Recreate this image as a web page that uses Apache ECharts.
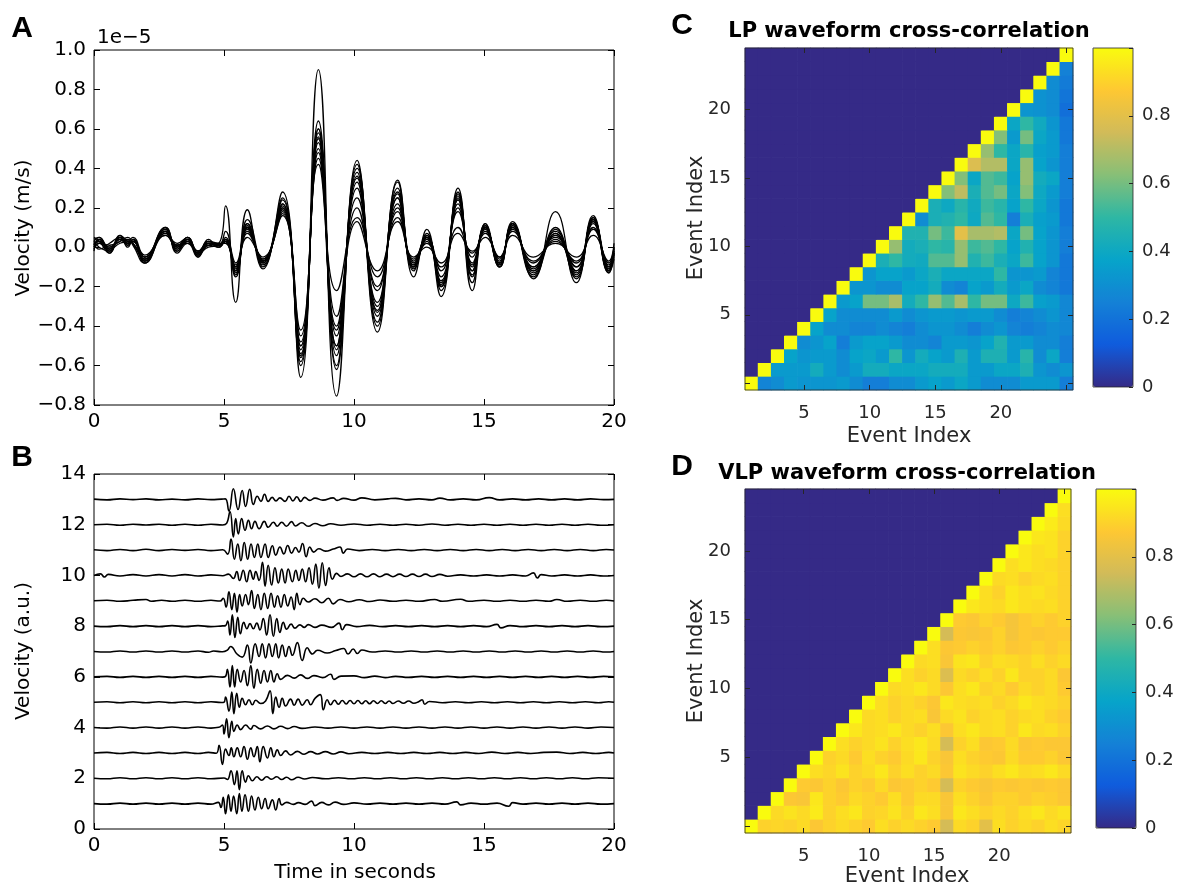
<!DOCTYPE html>
<html><head><meta charset="utf-8">
<script src="https://cdn.jsdelivr.net/npm/echarts@6/dist/echarts.min.js"></script>
<style>html,body{margin:0;padding:0;background:#fff}#c{width:1178px;height:889px}</style>
</head><body><div id="c"></div>
<script>
// ---------------- Panel A: overlaid LP waveforms (units of 1e-5 m/s), values at extrema ----------------
const tA = [0,0.2,0.6,1.0,1.3,1.5,1.95,2.75,3.2,3.6,4.0,4.4,4.8,5.06,5.45,5.9,6.5,7.25,7.95,8.63,9.33,10.12,10.9,11.68,12.3,12.8,13.35,14.0,14.55,15.05,15.6,16.1,16.9,17.75,18.55,19.2,19.8,20.0];
const a01 = [0.03,0.05,-0.01,0.04,0.01,0.03,-0.05,0.1,-0.01,0.05,-0.02,0.02,0.01,0.08,-0.12,0.12,-0.1,0.28,-0.66,0.9,-0.755,0.44,-0.43,0.34,-0.15,0.09,-0.25,0.3,-0.22,0.12,-0.1,0.12,-0.16,0.18,-0.18,0.16,-0.12,-0.02];
const a02 = [0.0,0.02,-0.02,0.05,0.02,0.04,-0.07,0.08,0.0,0.03,-0.04,0.01,0.02,0.21,-0.28,0.19,-0.11,0.22,-0.55,0.55,-0.5,0.35,-0.3,0.28,-0.08,0.06,-0.2,0.25,-0.12,0.1,-0.08,0.1,-0.1,0.08,-0.1,0.14,-0.1,0.0];
const a03 = [0.05,0.03,-0.03,0.06,0.03,0.02,-0.06,0.09,-0.02,0.04,-0.03,0.02,0.0,0.04,-0.08,0.14,-0.08,0.25,-0.6,0.64,-0.62,0.42,-0.4,0.33,-0.12,0.05,-0.22,0.28,-0.18,0.11,-0.09,0.12,-0.14,0.09,-0.16,0.15,-0.13,-0.03];
const a04 = [-0.02,0.04,0.0,0.03,0.04,0.01,-0.08,0.07,0.02,0.05,-0.05,0.03,0.01,0.03,-0.15,0.1,-0.07,0.18,-0.5,0.6,-0.6,0.38,-0.35,0.3,-0.1,0.04,-0.18,0.26,-0.1,0.1,-0.07,0.1,-0.12,0.06,-0.12,0.14,-0.11,-0.04];
const a05 = [0.02,-0.01,0.02,0.05,0.0,0.04,-0.05,0.1,-0.03,0.02,-0.02,0.03,0.02,0.02,-0.1,0.08,-0.06,0.2,-0.45,0.58,-0.5,0.3,-0.28,0.22,-0.09,0.03,-0.15,0.22,-0.08,0.09,-0.08,0.11,-0.1,0.04,-0.1,0.12,-0.1,-0.02];
const a06 = [0.01,0.03,-0.01,0.02,0.03,0.05,-0.04,0.06,0.01,0.04,-0.03,0.0,0.01,0.05,-0.12,0.12,-0.09,0.24,-0.58,0.5,-0.45,0.4,-0.38,0.25,-0.11,0.07,-0.2,0.24,-0.14,0.12,-0.09,0.13,-0.13,0.1,-0.14,0.13,-0.12,-0.05];
const a07 = [0.04,0.05,-0.03,0.04,0.02,0.03,-0.07,0.08,-0.01,0.03,-0.04,0.04,0.0,0.03,-0.09,0.05,-0.05,0.16,-0.42,0.45,-0.35,0.25,-0.22,0.18,-0.07,0.05,-0.12,0.18,-0.05,0.08,-0.06,0.09,-0.08,0.05,-0.08,0.1,-0.09,-0.01];
const a08 = [-0.01,0.02,0.01,0.03,0.05,0.02,-0.06,0.09,0.0,0.05,-0.02,0.02,0.01,0.04,-0.14,0.1,-0.07,0.2,-0.52,0.53,-0.4,0.2,-0.2,0.2,-0.1,0.05,-0.17,0.2,-0.09,0.1,-0.1,0.12,-0.11,0.07,-0.13,0.13,-0.12,-0.03];
const a09 = [0.03,0.0,-0.02,0.05,0.01,0.04,-0.08,0.06,0.01,0.02,-0.05,0.02,0.02,0.02,-0.1,0.07,-0.06,0.17,-0.48,0.42,-0.22,0.15,-0.15,0.15,-0.06,0.02,-0.1,0.1,-0.03,0.07,-0.05,0.08,-0.07,0.03,-0.07,0.09,-0.08,0.0];
const a10 = [0.0,0.04,-0.02,0.06,0.02,0.03,-0.05,0.08,-0.02,0.04,-0.03,0.03,0.01,0.03,-0.11,0.09,-0.08,0.22,-0.56,0.6,-0.55,0.33,-0.32,0.25,-0.09,0.06,-0.2,0.27,-0.15,0.11,-0.1,0.12,-0.15,0.07,-0.15,0.15,-0.13,-0.06];
const a11 = [0.02,0.03,0.0,0.04,0.03,0.02,-0.06,0.07,0.01,0.04,-0.04,0.01,0.0,0.04,-0.13,0.11,-0.07,0.19,-0.5,0.48,-0.42,0.13,-0.12,0.13,-0.05,0.0,-0.08,0.07,-0.02,0.05,-0.05,0.06,-0.05,0.02,-0.05,0.06,-0.07,0.02];
const a12 = [0.01,0.04,-0.01,0.05,0.02,0.03,-0.07,0.08,0.0,0.03,-0.03,0.02,0.01,0.03,-0.1,0.1,-0.07,0.21,-0.54,0.56,-0.52,0.36,-0.33,0.27,-0.1,0.05,-0.19,0.24,-0.12,0.1,-0.08,0.11,-0.12,0.06,-0.12,0.14,-0.11,-0.03];
const tracesA = [a01,a02,a03,a04,a05,a06,a07,a08,a09,a10,a11,a12];

// ---------------- Panel B: 13 stacked traces, [time, amplitude] at extrema ----------------
const bOffsets = [1,2,3,4,5,6,7,8,9,10,11,12,13];
const b01 = [[0,0],[0.5,-0.02],[1,0.02],[1.5,-0.02],[2,0.02],[2.5,-0.02],[3,0.02],[3.5,-0.02],[4,0.02],[4.5,-0.02],[4.78,0.05],[4.88,-0.15],[4.97,0.25],[5.06,-0.4],[5.17,0.35],[5.27,-0.3],[5.37,0.3],[5.49,-0.4],[5.59,0.4],[5.69,-0.3],[5.81,0.35],[5.94,-0.3],[6.06,0.3],[6.19,-0.25],[6.32,0.25],[6.45,-0.2],[6.58,0.2],[6.7,-0.2],[6.86,0.15],[6.99,-0.25],[7.12,0.2],[7.22,-0.05],[7.41,0.05],[7.67,-0.03],[7.86,0.04],[8.12,-0.03],[8.37,0.1],[8.5,-0.08],[8.76,0.05],[9.01,-0.05],[9.27,0.06],[9.6,-0.03],[10,0.03],[10.5,-0.02],[11,0.02],[11.5,-0.02],[12,0.02],[12.5,-0.02],[13,0.02],[13.5,-0.02],[13.95,0.07],[14.1,-0.05],[14.5,0.02],[15,-0.02],[15.5,0.02],[15.95,-0.1],[16.1,0.04],[16.5,-0.02],[17,0.02],[17.5,-0.02],[18,0.02],[18.5,-0.02],[19,0.02],[19.5,-0.02],[20,0]];
const b02 = [[0,0],[0.5,-0.02],[1,0.02],[1.5,-0.02],[2,0.02],[2.5,-0.02],[3,0.02],[3.5,-0.02],[4,0.02],[4.5,-0.02],[5.0,0.01],[5.13,-0.05],[5.27,0.3],[5.4,-0.25],[5.5,0.3],[5.59,-0.45],[5.7,0.3],[5.83,-0.15],[5.94,0.1],[6.09,-0.1],[6.26,0.06],[6.45,-0.08],[6.64,0.06],[6.83,-0.04],[7.03,0.06],[7.22,-0.05],[7.41,0.04],[7.6,-0.06],[7.85,0.04],[8.1,-0.03],[8.4,0.03],[8.9,-0.02],[9.4,0.02],[9.9,-0.02],[10.4,0.02],[10.9,-0.02],[11.4,0.02],[11.9,-0.02],[12.4,0.02],[12.9,-0.02],[13.4,0.02],[13.9,-0.02],[14.4,0.02],[14.9,-0.02],[15.4,0.02],[15.9,-0.02],[16.4,0.02],[16.9,-0.02],[17.4,0.02],[17.9,-0.02],[18.4,0.02],[18.9,-0.02],[19.4,0.02],[20,0]];
const b03 = [[0,0],[0.5,0.02],[1,-0.02],[1.5,0.02],[2,-0.02],[2.5,0.02],[3,-0.02],[3.5,0.02],[4,-0.02],[4.4,0.02],[4.7,-0.01],[4.81,0.3],[4.94,-0.45],[5.06,0.15],[5.19,-0.1],[5.28,0.2],[5.38,-0.15],[5.51,0.2],[5.64,-0.15],[5.77,0.25],[5.9,-0.25],[6.03,0.2],[6.15,-0.15],[6.28,0.25],[6.38,-0.35],[6.51,0.25],[6.67,-0.2],[6.8,0.2],[6.92,-0.15],[7.05,0.12],[7.18,-0.1],[7.37,0.08],[7.56,-0.08],[7.82,0.06],[8.08,-0.05],[8.33,0.05],[8.6,-0.04],[8.9,0.05],[9.2,-0.04],[9.5,0.04],[9.8,-0.03],[10.3,0.02],[10.8,-0.02],[11.3,0.02],[11.8,-0.02],[12.3,0.02],[12.8,-0.02],[13.3,0.02],[13.8,-0.02],[14.3,0.02],[14.8,-0.02],[15.3,0.03],[15.8,-0.02],[16.3,0.02],[16.8,-0.02],[17.3,0.02],[17.8,0.03],[18.3,-0.02],[18.8,0.02],[19.3,-0.02],[19.8,0.02],[20,0]];
const b04 = [[0,0],[0.5,-0.02],[1,0.02],[1.5,-0.02],[2,0.02],[2.5,-0.02],[3,0.02],[3.5,-0.02],[4,0.02],[4.5,-0.02],[4.8,0.01],[4.94,0.1],[5.0,-0.25],[5.1,0.35],[5.19,-0.4],[5.3,0.25],[5.38,-0.15],[5.51,0.1],[5.64,-0.08],[5.83,0.1],[6.03,-0.06],[6.15,0.08],[6.41,-0.05],[6.67,0.06],[6.92,-0.05],[7.18,0.05],[7.45,-0.04],[7.7,0.04],[8.0,-0.03],[8.5,0.02],[9,-0.02],[9.5,0.02],[10,-0.02],[10.5,0.02],[11,-0.02],[11.5,0.02],[12,-0.02],[12.5,0.02],[13,-0.02],[13.5,0.02],[14,-0.02],[14.5,0.02],[15,-0.02],[15.5,0.02],[16,-0.02],[16.5,0.02],[17,-0.02],[17.5,0.02],[18,-0.02],[18.5,0.02],[19,-0.02],[19.5,0.02],[20,0]];
const b05 = [[0,0],[0.5,0.02],[1,-0.02],[1.5,0.02],[2,-0.02],[2.5,0.02],[3,-0.02],[3.5,0.02],[4,-0.02],[4.5,0.02],[4.9,-0.01],[5.0,0],[5.06,0.2],[5.19,-0.35],[5.3,0.4],[5.38,-0.45],[5.49,0.35],[5.59,-0.2],[5.7,0.15],[5.83,-0.1],[5.96,0.1],[6.09,-0.1],[6.22,0.08],[6.41,-0.05],[6.6,0.05],[6.77,0.45],[6.88,-0.45],[6.99,0.2],[7.12,-0.2],[7.24,0.15],[7.37,-0.15],[7.56,0.12],[7.7,-0.12],[7.85,0.12],[8.01,-0.12],[8.2,0.1],[8.33,-0.1],[8.5,0.15],[8.7,0.3],[8.82,-0.3],[8.97,0.1],[9.1,-0.1],[9.25,0.08],[9.4,-0.08],[9.55,0.07],[9.7,-0.07],[9.85,0.07],[10.0,-0.06],[10.15,0.07],[10.3,-0.06],[10.45,0.06],[10.6,-0.06],[10.75,0.06],[10.9,-0.05],[11.05,0.06],[11.2,-0.05],[11.35,0.05],[11.5,-0.05],[11.7,0.05],[11.9,-0.04],[12.1,0.05],[12.3,-0.04],[12.5,0.03],[12.62,0.1],[12.72,-0.08],[12.9,0.03],[13.4,-0.02],[13.9,0.02],[14.4,-0.02],[14.9,0.02],[15.4,-0.02],[15.9,0.02],[16.4,-0.02],[16.9,0.02],[17.4,-0.02],[17.9,0.02],[18.4,-0.02],[18.9,0.02],[19.4,-0.02],[19.8,0.02],[20,0]];
const b06 = [[0,0],[0.5,0.02],[1,-0.02],[1.5,0.02],[2,-0.02],[2.5,0.02],[3,-0.02],[3.5,0.02],[4,-0.02],[4.5,0.02],[4.95,-0.01],[5.06,0.02],[5.13,0.3],[5.23,-0.4],[5.32,0.45],[5.41,-0.4],[5.51,0.3],[5.64,-0.2],[5.77,0.25],[5.9,-0.35],[6.03,0.45],[6.15,-0.45],[6.28,0.3],[6.41,-0.25],[6.54,0.25],[6.67,-0.2],[6.8,0.25],[6.92,-0.2],[7.05,0.12],[7.18,-0.1],[7.44,0.06],[7.7,-0.05],[7.95,0.08],[8.2,-0.06],[8.46,0.05],[8.8,-0.03],[9.1,0.1],[9.23,-0.1],[9.5,0.03],[10,0.04],[10.4,-0.03],[10.8,0.03],[11.2,-0.03],[11.6,0.02],[12.1,-0.02],[12.6,0.02],[13.1,-0.02],[13.6,0.02],[14.1,-0.02],[14.6,0.02],[15.1,-0.02],[15.6,0.02],[16.1,-0.02],[16.6,0.02],[17.1,-0.02],[17.6,0.02],[18.1,-0.02],[18.6,0.02],[19.1,-0.02],[19.6,0.02],[20,0]];
const b07 = [[0,0],[0.5,-0.02],[1,0.02],[1.5,-0.02],[2,0.02],[2.5,-0.02],[3,0.02],[3.5,-0.02],[4,0.02],[4.4,-0.03],[4.6,0.02],[4.9,-0.01],[5.0,0],[5.13,0.05],[5.26,0.2],[5.5,-0.1],[5.7,-0.22],[5.9,0.25],[6.03,-0.45],[6.2,0.3],[6.35,-0.2],[6.47,0.3],[6.6,-0.25],[6.73,0.3],[6.86,-0.2],[6.99,0.3],[7.1,-0.25],[7.24,0.25],[7.37,-0.2],[7.5,0.2],[7.63,-0.15],[7.82,0.35],[8.01,-0.35],[8.2,0.15],[8.4,-0.1],[8.6,0.05],[8.97,-0.06],[9.3,0.04],[9.6,0.12],[9.77,-0.1],[9.97,0.1],[10.13,-0.08],[10.3,0.06],[10.7,-0.02],[11.2,0.02],[11.7,-0.02],[12.2,0.02],[12.7,-0.02],[13.2,0.02],[13.7,-0.02],[14.2,0.02],[14.7,-0.02],[15.2,0.02],[15.7,-0.02],[16.2,0.02],[16.7,-0.02],[17.2,0.02],[17.7,-0.02],[18.2,0.02],[18.7,-0.02],[19.2,0.02],[19.7,-0.02],[20,0]];
const b08 = [[0,0],[0.5,-0.02],[1,0.02],[1.5,-0.02],[2,0.02],[2.5,-0.02],[3,0.02],[3.5,-0.02],[4,0.02],[4.5,-0.02],[4.95,0.01],[5.06,0.02],[5.14,0.2],[5.23,-0.35],[5.32,0.45],[5.42,-0.45],[5.53,0.35],[5.63,-0.3],[5.76,0.15],[5.88,-0.1],[6.0,0.1],[6.13,-0.1],[6.26,0.12],[6.38,-0.15],[6.51,0.3],[6.64,-0.35],[6.77,0.45],[6.9,-0.4],[7.03,0.3],[7.15,-0.25],[7.28,0.15],[7.41,-0.12],[7.58,0.08],[7.73,-0.08],[7.92,0.05],[8.09,-0.05],[8.24,0.06],[8.5,-0.05],[8.76,0.04],[9.14,-0.05],[9.42,0.12],[9.55,-0.14],[9.72,0.06],[10.1,-0.02],[10.6,0.03],[11.1,-0.02],[11.6,0.02],[12.1,-0.02],[12.6,0.02],[13.1,-0.02],[13.6,0.02],[14.1,-0.02],[14.6,0.02],[15.1,-0.02],[15.5,0.07],[15.65,-0.07],[16,0.02],[16.5,-0.02],[17,0.02],[17.5,-0.02],[18,0.02],[18.5,-0.02],[19,0.02],[19.5,-0.02],[20,0]];
const b09 = [[0,0],[0.5,0.02],[1,-0.02],[1.5,0.02],[2,0.05],[2.2,-0.02],[2.6,0.02],[3,-0.02],[3.5,0.02],[4,-0.02],[4.5,0.02],[4.85,-0.01],[4.97,0.1],[5.08,-0.25],[5.19,0.35],[5.3,-0.35],[5.4,0.3],[5.5,-0.45],[5.6,0.25],[5.7,-0.2],[5.83,0.25],[5.94,-0.15],[6.06,0.4],[6.17,-0.3],[6.3,0.25],[6.42,-0.35],[6.55,0.3],[6.68,-0.3],[6.81,0.3],[6.94,-0.25],[7.06,0.2],[7.19,-0.25],[7.32,0.25],[7.45,-0.2],[7.58,0.15],[7.7,-0.35],[7.8,0.3],[7.92,-0.15],[8.05,0.1],[8.24,-0.05],[8.5,0.08],[8.76,-0.08],[9.01,0.1],[9.2,-0.12],[9.46,0.05],[9.8,-0.04],[10.2,0.04],[10.6,-0.03],[11,0.03],[11.5,-0.02],[12,0.02],[12.5,-0.02],[13.1,0.05],[13.4,-0.02],[14.1,0.06],[14.4,-0.02],[15,0.02],[15.5,-0.02],[16,0.02],[16.5,-0.02],[17,0.02],[17.5,-0.02],[17.8,0.05],[18.2,-0.02],[18.7,0.02],[19.2,-0.02],[19.7,0.02],[20,-0.01]];
const b10 = [[0,0],[0.25,0.06],[0.4,-0.06],[0.55,0.04],[1,-0.02],[1.5,0.03],[2,-0.02],[2.5,0.03],[3,-0.02],[3.5,0.03],[4,-0.02],[4.5,0.02],[4.95,-0.01],[5.17,0.05],[5.36,-0.12],[5.49,0.15],[5.6,-0.2],[5.74,0.2],[5.87,-0.25],[6.0,0.2],[6.13,-0.15],[6.22,0.15],[6.35,-0.2],[6.48,0.52],[6.58,-0.42],[6.7,0.4],[6.83,-0.38],[6.96,0.3],[7.09,-0.3],[7.22,0.25],[7.35,-0.3],[7.47,0.25],[7.63,-0.25],[7.76,0.2],[7.88,-0.2],[8.01,0.25],[8.14,-0.25],[8.27,0.3],[8.4,-0.35],[8.53,0.45],[8.65,-0.5],[8.78,0.5],[8.91,-0.4],[9.04,0.3],[9.17,-0.15],[9.33,0.08],[9.5,-0.04],[9.75,0.06],[10,-0.05],[10.25,0.06],[10.5,-0.05],[10.75,0.06],[11,-0.05],[11.25,0.05],[11.5,-0.05],[11.75,0.05],[12,-0.04],[12.25,0.05],[12.5,-0.04],[12.75,0.05],[13,-0.04],[13.3,0.04],[13.6,-0.03],[14.1,0.02],[14.6,-0.02],[15.1,0.02],[15.6,-0.02],[16.1,0.02],[16.6,-0.02],[16.9,0.1],[17.05,-0.1],[17.2,0.03],[17.6,-0.02],[18.1,0.02],[18.6,-0.02],[19.1,0.02],[19.6,-0.02],[20,0]];
const b11 = [[0,0.01],[0.5,-0.02],[1,0.02],[1.5,-0.02],[2,0.03],[2.5,-0.02],[3,0.02],[3.5,-0.01],[4,0.02],[4.5,-0.02],[4.95,0.01],[5.14,-0.16],[5.27,0.43],[5.4,-0.36],[5.53,0.24],[5.65,-0.42],[5.78,0.3],[5.91,-0.36],[6.04,0.24],[6.17,-0.29],[6.3,0.24],[6.42,-0.29],[6.58,0.24],[6.7,-0.29],[6.86,0.17],[6.99,-0.2],[7.15,0.12],[7.3,-0.15],[7.45,0.18],[7.6,-0.12],[7.75,0.1],[7.88,-0.08],[8.02,0.26],[8.16,-0.26],[8.3,0.12],[8.45,-0.08],[8.65,0.05],[8.9,-0.04],[9.2,0.04],[9.46,0.12],[9.59,-0.12],[9.75,0.04],[10.2,-0.02],[10.7,0.02],[11.2,-0.02],[11.7,0.02],[12.2,-0.02],[12.7,0.02],[13.2,-0.02],[13.7,0.02],[14.2,-0.02],[14.7,0.02],[15.2,-0.02],[15.7,0.02],[16.2,-0.02],[16.7,0.02],[17.2,-0.02],[17.7,0.02],[18.2,-0.02],[18.7,0.02],[19.2,-0.02],[19.7,0.02],[20,0]];
const b12 = [[0,0],[0.5,0.02],[1,-0.02],[1.5,0.02],[2,-0.01],[2.5,0.02],[3,-0.02],[3.5,0.02],[4,-0.02],[4.5,0.02],[4.95,-0.01],[5.1,0.05],[5.23,0.52],[5.36,-0.48],[5.45,0.24],[5.55,-0.36],[5.68,0.24],[5.81,-0.22],[5.94,0.17],[6.06,-0.16],[6.19,0.13],[6.35,-0.16],[6.55,0.13],[6.7,-0.1],[6.9,0.1],[7.05,-0.06],[7.22,0.1],[7.4,-0.06],[7.6,0.12],[7.75,-0.05],[7.99,0.08],[8.24,-0.06],[8.5,0.05],[8.8,-0.04],[9.1,0.04],[9.5,-0.02],[10,0.03],[10.5,-0.02],[11,0.02],[11.5,-0.02],[12,0.02],[12.5,-0.02],[13,0.03],[13.5,-0.02],[14,0.02],[14.5,-0.02],[15,0.02],[15.5,-0.02],[16,0.02],[16.5,-0.02],[17,0.02],[17.5,-0.02],[18,0.02],[18.5,-0.02],[19,0.02],[19.5,-0.02],[20,0]];
const b13 = [[0,0.01],[0.5,-0.02],[1,0.02],[1.5,-0.01],[2,0.02],[2.5,-0.02],[3,0.01],[3.5,-0.02],[4,0.02],[4.5,-0.01],[4.9,0.01],[5.05,0.02],[5.19,-0.46],[5.36,0.42],[5.54,-0.4],[5.7,0.35],[5.83,-0.28],[5.99,0.4],[6.13,-0.2],[6.28,0.12],[6.42,-0.08],[6.56,0.2],[6.7,-0.08],[6.85,0.08],[7.0,-0.06],[7.15,0.06],[7.35,-0.08],[7.5,0.12],[7.65,-0.06],[7.8,0.1],[7.95,-0.08],[8.1,0.08],[8.3,-0.04],[8.5,0.05],[8.8,-0.03],[9.2,0.06],[9.35,-0.04],[9.6,0.04],[10,-0.03],[10.3,0.06],[10.8,-0.02],[11.3,0.02],[11.6,0.04],[12,-0.02],[12.5,0.02],[13,-0.02],[13.3,0.05],[13.7,-0.02],[14.2,0.02],[14.7,-0.02],[15.2,0.07],[15.6,-0.02],[16.1,0.02],[16.6,-0.02],[17.1,0.02],[17.6,-0.02],[18.1,0.02],[18.6,-0.02],[19.1,0.02],[19.6,-0.01],[20,0]];
const tracesB = [b01,b02,b03,b04,b05,b06,b07,b08,b09,b10,b11,b12,b13];

// ---------------- Panels C/D: cross-correlation matrices ----------------
const eventX = ['1','2','3','4','5','6','7','8','9','10','11','12','13','14','15','16','17','18','19','20','21','22','23','24','25'];
const eventY = ['0','1','2','3','4','5','6','7','8','9','10','11','12','13','14','15','16','17','18','19','20','21','22','23','24'];
const diagValue = 1, maskedValue = 0;
// row r (bottom = 1): values for columns r+1 .. 25
const lpRows = [
 [0.26,0.29,0.34,0.32,0.32,0.32,0.34,0.29,0.24,0.24,0.29,0.29,0.34,0.37,0.34,0.39,0.34,0.29,0.29,0.29,0.34,0.34,0.34,0.24],
 [0.34,0.34,0.34,0.42,0.34,0.29,0.34,0.42,0.42,0.39,0.39,0.39,0.42,0.42,0.42,0.34,0.34,0.39,0.39,0.45,0.32,0.29,0.32],
 [0.37,0.32,0.34,0.34,0.29,0.37,0.39,0.34,0.5,0.32,0.42,0.37,0.34,0.45,0.34,0.45,0.45,0.34,0.48,0.29,0.39,0.24],
 [0.29,0.32,0.37,0.24,0.34,0.37,0.37,0.34,0.29,0.29,0.26,0.34,0.34,0.32,0.37,0.46,0.34,0.34,0.29,0.29,0.24],
 [0.37,0.29,0.29,0.26,0.26,0.29,0.26,0.24,0.29,0.32,0.32,0.29,0.24,0.29,0.32,0.26,0.24,0.26,0.29,0.27],
 [0.37,0.29,0.29,0.29,0.29,0.34,0.29,0.32,0.34,0.34,0.32,0.34,0.34,0.29,0.24,0.26,0.29,0.32,0.27],
 [0.34,0.37,0.6,0.6,0.68,0.42,0.5,0.65,0.55,0.68,0.5,0.6,0.6,0.4,0.52,0.36,0.34,0.27],
 [0.32,0.32,0.29,0.29,0.37,0.37,0.42,0.29,0.26,0.37,0.34,0.42,0.34,0.39,0.29,0.26,0.22],
 [0.32,0.37,0.37,0.34,0.39,0.44,0.39,0.39,0.39,0.39,0.5,0.32,0.32,0.34,0.26,0.22],
 [0.44,0.5,0.42,0.41,0.55,0.55,0.65,0.46,0.52,0.44,0.39,0.52,0.37,0.32,0.22],
 [0.65,0.42,0.44,0.5,0.48,0.65,0.52,0.55,0.5,0.37,0.46,0.37,0.32,0.24],
 [0.46,0.46,0.6,0.52,0.8,0.68,0.68,0.7,0.39,0.6,0.37,0.32,0.24],
 [0.29,0.44,0.46,0.5,0.4,0.55,0.5,0.24,0.44,0.36,0.34,0.22],
 [0.44,0.4,0.48,0.41,0.52,0.48,0.37,0.5,0.39,0.32,0.22],
 [0.62,0.72,0.44,0.55,0.6,0.39,0.62,0.4,0.34,0.24],
 [0.62,0.39,0.55,0.52,0.37,0.65,0.42,0.39,0.24],
 [0.78,0.7,0.7,0.39,0.65,0.37,0.32,0.24],
 [0.65,0.5,0.39,0.48,0.36,0.34,0.24],
 [0.62,0.34,0.6,0.39,0.34,0.22],
 [0.39,0.5,0.41,0.32,0.22],
 [0.32,0.31,0.29,0.19],
 [0.31,0.29,0.21],
 [0.29,0.23],
 [0.25]
];
const vlpRows = [
 [0.9,0.91,0.9,0.92,0.87,0.9,0.92,0.9,0.88,0.93,0.9,0.92,0.9,0.88,0.76,0.92,0.9,0.8,0.93,0.9,0.92,0.9,0.93,0.91],
 [0.92,0.94,0.92,0.96,0.9,0.93,0.95,0.9,0.91,0.94,0.9,0.95,0.93,0.86,0.95,0.93,0.9,0.92,0.9,0.93,0.95,0.92,0.94],
 [0.87,0.86,0.95,0.9,0.88,0.92,0.9,0.88,0.93,0.88,0.92,0.92,0.86,0.93,0.9,0.87,0.9,0.9,0.88,0.9,0.89,0.87],
 [0.88,0.87,0.9,0.87,0.9,0.88,0.92,0.87,0.88,0.9,0.88,0.76,0.9,0.88,0.86,0.88,0.87,0.88,0.87,0.88,0.87],
 [0.93,0.91,0.94,0.9,0.92,0.95,0.9,0.93,0.9,0.92,0.87,0.94,0.92,0.9,0.93,0.95,0.92,0.93,0.95,0.92],
 [0.9,0.92,0.88,0.93,0.9,0.88,0.92,0.95,0.9,0.86,0.93,0.9,0.88,0.87,0.92,0.88,0.88,0.9,0.87],
 [0.93,0.9,0.92,0.94,0.9,0.93,0.95,0.92,0.76,0.9,0.93,0.87,0.88,0.92,0.87,0.88,0.87,0.87],
 [0.95,0.92,0.93,0.95,0.92,0.9,0.93,0.87,0.93,0.95,0.92,0.93,0.9,0.95,0.92,0.93,0.9],
 [0.92,0.93,0.9,0.92,0.93,0.86,0.92,0.94,0.9,0.92,0.93,0.9,0.92,0.93,0.9,0.88],
 [0.93,0.9,0.92,0.9,0.87,0.95,0.93,0.92,0.93,0.9,0.92,0.95,0.93,0.92,0.9],
 [0.92,0.93,0.95,0.92,0.87,0.93,0.95,0.9,0.92,0.88,0.92,0.9,0.92,0.88],
 [0.93,0.9,0.92,0.78,0.92,0.9,0.93,0.9,0.95,0.9,0.9,0.92,0.87],
 [0.92,0.93,0.86,0.94,0.95,0.9,0.93,0.92,0.9,0.93,0.9,0.92],
 [0.93,0.87,0.88,0.9,0.88,0.9,0.87,0.88,0.9,0.88,0.9],
 [0.76,0.87,0.86,0.87,0.9,0.85,0.88,0.87,0.88,0.88],
 [0.88,0.87,0.9,0.88,0.85,0.88,0.9,0.88,0.9],
 [0.95,0.93,0.92,0.95,0.93,0.92,0.93,0.9],
 [0.93,0.9,0.95,0.93,0.94,0.92,0.9],
 [0.92,0.93,0.9,0.92,0.93,0.9],
 [0.93,0.95,0.93,0.92,0.9],
 [0.95,0.93,0.94,0.9],
 [0.95,0.94,0.9],
 [0.96,0.92],
 [0.93]
];
const parula = ['#352a87','#0f5cdd','#1481d6','#06a4ca','#2eb7a4','#87bf77','#d1bb59','#fec832','#f9fb0e'];
const colorbarTicks = [0,0.2,0.4,0.6,0.8];

function buildMatrix(rows){
  const d = [];
  for (let r = 1; r <= eventY.length; r++) {
    for (let c = 1; c <= eventX.length; c++) {
      let v;
      if (c < r) v = maskedValue; else if (c === r) v = diagValue; else v = rows[r-1][c-r-1];
      d.push([c-1, r-1, v]);
    }
  }
  return d;
}
// cell drawn through the category scales; slightly overlapped to avoid anti-alias seams
function renderCell(params, api){
  const p = api.coord([api.value(0), api.value(1)]);
  const s = api.size([1, 1]);
  return {type:'rect', shape:{x:p[0]-s[0]/2-0.35, y:p[1]-s[1]/2-0.35, width:s[0]+0.7, height:s[1]+0.7},
          style:{fill: api.visual('color'), stroke:null}};
}

const FONT = 'DejaVu Sans';
const minus = v => (v < 0 ? '\u2212' : '') + Math.abs(v).toFixed(1);

function mplAxis(gridIndex, position, min, max, interval, showLabel, fmt, margin){
  return {type:'value', gridIndex, position, min, max, interval,
    axisLine:{show:false, onZero:false}, splitLine:{show:false},
    axisTick:{show:true, inside:true, length:6, lineStyle:{color:'#000', width:1}},
    axisLabel:{show:showLabel, color:'#000', fontFamily:FONT, fontSize:20, margin:margin, formatter:fmt}};
}
function catAxis(gridIndex, position, data, tickFn, labelFn, showLabel){
  return {type:'category', gridIndex, position, data, z:4,
    axisLine:{show:false, onZero:false}, splitLine:{show:false},
    axisTick:{show:true, inside:true, alignWithLabel:true, length:5, interval:tickFn, lineStyle:{color:'#262626', width:1}},
    axisLabel:{show:showLabel, interval:labelFn, color:'#262626', fontFamily:FONT, fontSize:18, margin:14}};
}
const xTick = (i) => (i+1) % 5 === 0;
const xLab = (i) => (i+1) % 5 === 0 && i+1 < 25;
const yTick = (i) => i % 5 === 0;
const yLab = (i) => i % 5 === 0 && i > 0;

function txt(text, x, y, font, rot, align, fill){
  return {type:'text', x, y, rotation: rot || 0, silent:true, z:10,
    style:{text, x:0, y:0, font, fill: fill || '#000', align: align || 'center', verticalAlign:'middle', textAlign: align || 'center', textVerticalAlign:'middle'}};
}

const series = [];
tracesA.forEach((arr) => series.push({type:'line', xAxisIndex:0, yAxisIndex:0, data: tA.map((t,j)=>[t, arr[j]]),
  smooth:true, showSymbol:false, silent:true, lineStyle:{color:'#000', width:1.3}}));
tracesB.forEach((arr, i) => series.push({type:'line', xAxisIndex:2, yAxisIndex:2, data: arr.map(p=>[p[0], bOffsets[i] + p[1]]),
  smooth:true, showSymbol:false, silent:true, lineStyle:{color:'#000', width:1.6}}));
const idxC = series.length;
series.push({type:'custom', xAxisIndex:4, yAxisIndex:4, data: buildMatrix(lpRows), renderItem: renderCell, silent:true,
  encode:{x:0, y:1}, dimensions:['col','row','corr']});
const idxD = series.length;
series.push({type:'custom', xAxisIndex:6, yAxisIndex:6, data: buildMatrix(vlpRows), renderItem: renderCell, silent:true,
  encode:{x:0, y:1}, dimensions:['col','row','corr']});

const cbAxisY = (g) => ({type:'value', gridIndex:g, position:'right', min:0, max:1, interval:0.2, z:6,
  axisLine:{show:false, onZero:false}, splitLine:{show:false},
  axisTick:{show:true, inside:true, length:4, lineStyle:{color:'#262626'}},
  axisLabel:{color:'#262626', fontFamily:FONT, fontSize:18, margin:9,
    formatter:(v)=> colorbarTicks.some(t=>Math.abs(t-v)<1e-6) ? (v===0?'0':v.toFixed(1)) : ''}});

const option = {
  animation:false,
  backgroundColor:'#fff',
  grid:[
    {left:94, top:50, width:520, height:355, show:true, borderColor:'#000', borderWidth:1, backgroundColor:'transparent'},
    {left:94, top:474, width:520, height:355, show:true, borderColor:'#000', borderWidth:1, backgroundColor:'transparent'},
    {left:745, top:48, width:328, height:342, show:true, borderColor:'#262626', borderWidth:0.8, backgroundColor:'transparent', z:3},
    {left:745, top:489, width:326, height:344, show:true, borderColor:'#262626', borderWidth:0.8, backgroundColor:'transparent', z:3},
    {left:1093, top:48, width:40, height:339, show:true, borderColor:'#262626', borderWidth:0.8, backgroundColor:'transparent', z:5},
    {left:1096, top:489, width:40, height:339, show:true, borderColor:'#262626', borderWidth:0.8, backgroundColor:'transparent', z:5}
  ],
  xAxis:[
    mplAxis(0,'bottom',0,20,5,true,null,7),
    mplAxis(0,'top',0,20,5,false,null,7),
    mplAxis(1,'bottom',0,20,5,true,null,7),
    mplAxis(1,'top',0,20,5,false,null,7),
    catAxis(2,'bottom',eventX,xTick,xLab,true),
    catAxis(2,'top',eventX,xTick,xLab,false),
    catAxis(3,'bottom',eventX,xTick,xLab,true),
    catAxis(3,'top',eventX,xTick,xLab,false),
    {type:'value', gridIndex:4, show:false, min:0, max:1},
    {type:'value', gridIndex:5, show:false, min:0, max:1}
  ],
  yAxis:[
    mplAxis(0,'left',-0.8,1.0,0.2,true,minus,8),
    mplAxis(0,'right',-0.8,1.0,0.2,false,null,8),
    mplAxis(1,'left',0,14,2,true,null,8),
    mplAxis(1,'right',0,14,2,false,null,8),
    catAxis(2,'left',eventY,yTick,yLab,true),
    catAxis(2,'right',eventY,yTick,yLab,false),
    catAxis(3,'left',eventY,yTick,yLab,true),
    catAxis(3,'right',eventY,yTick,yLab,false),
    cbAxisY(4),
    cbAxisY(5)
  ],
  visualMap:[
    {type:'continuous', seriesIndex:idxC, dimension:2, min:0, max:1, inRange:{color:parula}, orient:'vertical',
     left:1093, top:48, itemWidth:40, itemHeight:339, padding:0, calculable:false, hoverLink:false, z:2},
    {type:'continuous', seriesIndex:idxD, dimension:2, min:0, max:1, inRange:{color:parula}, orient:'vertical',
     left:1096, top:489, itemWidth:40, itemHeight:339, padding:0, calculable:false, hoverLink:false, z:2}
  ],
  graphic:{elements:[
    txt('A', 22, 29, 'bold 30px "Liberation Sans"'),
    txt('1e\u22125', 97, 38, '20px "DejaVu Sans"', 0, 'left'),
    txt('Velocity (m/s)', 24, 228, '20px "DejaVu Sans"', Math.PI/2),
    txt('B', 22, 458, 'bold 30px "Liberation Sans"'),
    txt('Velocity (a.u.)', 24, 651, '20px "DejaVu Sans"', Math.PI/2),
    txt('Time in seconds', 355, 873, '20px "DejaVu Sans"'),
    txt('C', 682, 26, 'bold 30px "Liberation Sans"'),
    txt('LP waveform cross-correlation', 909, 32, 'bold 21px "DejaVu Sans"'),
    txt('Event Index', 697, 218, '21px "DejaVu Sans"', Math.PI/2, 'center', '#262626'),
    txt('Event Index', 909, 437, '21px "DejaVu Sans"', 0, 'center', '#262626'),
    txt('D', 682, 467, 'bold 30px "Liberation Sans"'),
    txt('VLP waveform cross-correlation', 907, 474, 'bold 21px "DejaVu Sans"'),
    txt('Event Index', 697, 661, '21px "DejaVu Sans"', Math.PI/2, 'center', '#262626'),
    txt('Event Index', 907, 877, '21px "DejaVu Sans"', 0, 'center', '#262626')
  ]},
  series
};
const chart = echarts.init(document.getElementById('c'), null, {renderer:'canvas'});
chart.setOption(option);
</script>
</body></html>
